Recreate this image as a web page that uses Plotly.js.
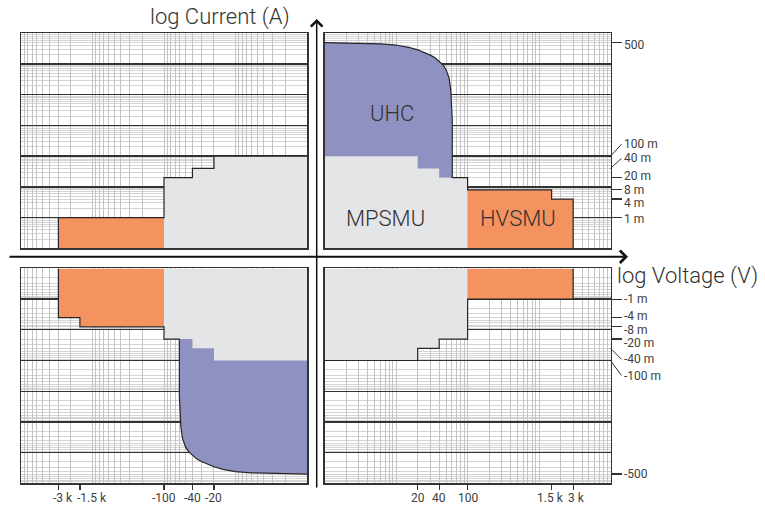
<!DOCTYPE html>
<html><head><meta charset="utf-8">
<script src="https://cdn.plot.ly/plotly-3.0.1.min.js"></script>
<style>html,body{margin:0;padding:0;background:#fff}#chart{width:765px;height:511px}</style>
</head><body><div id="chart"></div>
<script>
// ---- data (magnitudes: volts, amps) ----
const vFloor = 1;          // lowest |V| shown
const iFloor = 1e-4;       // lowest |I| shown
// MPSMU compliance steps (all four quadrants)
const mpsmuVolt = [20, 40, 100];
const mpsmuAmp  = [0.1, 0.04, 0.02];
// HVSMU source quadrants (I and III)
const hvsmuVoltStart = 100;
const hvsmuVolt = [1500, 3000];
const hvsmuAmp  = [0.008, 0.004];
// HVSMU sink quadrants (II and IV)
const hvsmuSinkVolt = [3000];
const hvsmuSinkAmp  = [0.001];
// UHC boundary curve (I and III)
const uhcVolt = [1, 3, 6, 10, 15, 20, 25, 30, 35, 40, 45, 50, 55, 58, 60, 61, 61];
const uhcAmp  = [500, 480, 455, 415, 350, 290, 240, 195, 160, 125, 95, 65, 35, 15, 5, 1.5, 0.02];
// tick labels
const topRightTickVals = [500, 0.02, 0.008, 0.004, 0.001];
const topRightTickText = ['500', '20 m', '8 m', '4 m', '1 m'];
const topRightLeaderVals = [0.1, 0.04];
const topRightLeaderText = ['100 m', '40 m'];
const botRightTickVals = [0.001, 0.004, 0.008, 0.02, 500];
const botRightTickText = ['-1 m', '-4 m', '-8 m', '-20 m', '-500'];
const botRightLeaderVals = [0.04, 0.1];
const botRightLeaderText = ['-40 m', '-100 m'];
const botLeftXTickVals = [3000, 1500, 100, 40, 20];
const botLeftXTickText = ['-3 k', '-1.5 k', '-100', '-40', '-20'];
const botRightXTickVals = [20, 40, 100, 1500, 3000];
const botRightXTickText = ['20', '40', '100', '1.5 k', '3 k'];
const moduleNames = ['UHC', 'MPSMU', 'HVSMU'];

// ---- label placement tweaks (pixels) ----
const topRightShift = [-2, 1.5, 0, -3.5, -1];
const botRightShift = [0, 1.5, -3, -4, 0];
const botLeftXShift = [5, 12, 0, 0, 0];
const botRightXShift = [0, 0, 0, -1, 3];

// ---- helpers ----
function stepEdge(v0, volts, amps) {
  const x = [v0], y = [amps[0]];
  volts.forEach((v, k) => {
    x.push(v); y.push(amps[k]);
    if (k < volts.length - 1) { x.push(v); y.push(amps[k + 1]); }
  });
  return {x, y};
}
function closeToFloor(e) {
  return {x: e.x.concat([e.x[e.x.length - 1], e.x[0], e.x[0]]),
          y: e.y.concat([iFloor, iFloor, e.y[0]])};
}
const COL = {uhc: '#8f92c1', mp: '#e4e5e7', hv: '#f4935f', edge: '#262626'};
function fill(xa, ya, poly, color) {
  return {type: 'scatter', mode: 'lines', x: poly.x, y: poly.y, xaxis: xa, yaxis: ya,
          fill: 'toself', fillcolor: color, line: {width: 0}, hoverinfo: 'skip', showlegend: false};
}
function outline(xa, ya, x, y) {
  return {type: 'scatter', mode: 'lines', x, y, xaxis: xa, yaxis: ya,
          line: {color: COL.edge, width: 1.2}, hoverinfo: 'skip', showlegend: false};
}
// empty trace so that a tick-mark axis gets drawn
function axisHolder(xa, ya) {
  return {type: 'scatter', mode: 'none', x: [], y: [], xaxis: xa, yaxis: ya, hoverinfo: 'skip', showlegend: false};
}

const mpEdge = stepEdge(vFloor, mpsmuVolt, mpsmuAmp);
const hvEdge = stepEdge(hvsmuVoltStart, hvsmuVolt, hvsmuAmp);
const hvSinkEdge = stepEdge(mpsmuVolt[mpsmuVolt.length - 1], hvsmuSinkVolt, hvsmuSinkAmp);
const uhcPoly = {x: uhcVolt.concat([vFloor, uhcVolt[0]]),
                 y: uhcAmp.concat([uhcAmp[uhcAmp.length - 1], uhcAmp[0]])};
const mpLastV = mpsmuVolt[mpsmuVolt.length - 1], mpLastI = mpsmuAmp[mpsmuAmp.length - 1];

// outline of quadrants I / III
const srcOutX = uhcVolt.concat([mpLastV, mpLastV], hvEdge.x.slice(1), [hvsmuVolt[hvsmuVolt.length - 1]]);
const srcOutY = uhcAmp.concat([mpLastI, hvsmuAmp[0]], hvEdge.y.slice(1), [iFloor]);
// outline of quadrants II / IV
const sinkOutX = mpEdge.x.concat(hvSinkEdge.x, [hvsmuSinkVolt[hvsmuSinkVolt.length - 1]]);
const sinkOutY = mpEdge.y.concat(hvSinkEdge.y, [iFloor]);

function sourceQuadrant(xa, ya) {
  return [fill(xa, ya, uhcPoly, COL.uhc), fill(xa, ya, closeToFloor(mpEdge), COL.mp),
          fill(xa, ya, closeToFloor(hvEdge), COL.hv), outline(xa, ya, srcOutX, srcOutY)];
}
function sinkQuadrant(xa, ya) {
  return [fill(xa, ya, closeToFloor(mpEdge), COL.mp), fill(xa, ya, closeToFloor(hvSinkEdge), COL.hv),
          outline(xa, ya, sinkOutX, sinkOutY)];
}
const data = [].concat(sinkQuadrant('x', 'y'), sourceQuadrant('x2', 'y2'),
                       sourceQuadrant('x3', 'y3'), sinkQuadrant('x4', 'y4'),
                       [axisHolder('x2', 'y5'), axisHolder('x4', 'y6'),
                        axisHolder('x5', 'y3'), axisHolder('x6', 'y4')]);

// ---- layout ----
const W = 765, H = 511;
const FONT = 'Roboto, "Open Sans", sans-serif';
const TXT = '#404040';
const domL = [21 / W, 307 / W], domR = [324.7 / W, 610.5 / W];
const domT = [1 - 248.3 / H, 1 - 33.3 / H], domB = [1 - 483.3 / H, 1 - 268.4 / H];
const gridX = (dom, anchor, range) => ({domain: dom, anchor, type: 'log', range, dtick: 'D1',
  showticklabels: false, ticks: '', showgrid: true, gridcolor: '#c4c4c4', gridwidth: 1,
  zeroline: false, showline: true, mirror: true, linecolor: '#333', linewidth: 1.5});
const gridY = (dom, anchor, range) => ({domain: dom, anchor, type: 'log', range, dtick: 1,
  showticklabels: false, ticks: '', showgrid: true, gridcolor: '#333', gridwidth: 1.4,
  minor: {dtick: 'D1', showgrid: true, gridcolor: '#d4d4d4', gridwidth: 1, ticks: ''},
  zeroline: false, showline: true, mirror: true, linecolor: '#333', linewidth: 1.5});
const tickFont = {family: FONT, size: 12, color: TXT};
const tickAxis = (extra) => Object.assign({type: 'log', tickmode: 'array', ticks: 'outside',
  tickcolor: '#333', tickwidth: 1.2, showgrid: false, zeroline: false, showline: false,
  showticklabels: false}, extra);

const annotations = [];
// axis arrows
annotations.push({xref: 'paper', yref: 'paper', x: 316.7 / W, y: 1 - 19 / H, ax: 0, ay: 470,
  text: '', showarrow: true, arrowhead: 4, arrowsize: 1.5, arrowwidth: 1.5, arrowcolor: '#111'});
annotations.push({xref: 'paper', yref: 'paper', x: 628 / W, y: 1 - 256.7 / H, ax: -620, ay: 0,
  text: '', showarrow: true, arrowhead: 4, arrowsize: 1.2, arrowwidth: 2, arrowcolor: '#111'});
// axis titles
annotations.push({xref: 'paper', yref: 'paper', x: 292 / W, y: 1 - 17 / H, xanchor: 'right', yanchor: 'middle',
  text: 'log Current (A)', showarrow: false, font: {family: FONT, size: 22, color: '#333', weight: 300}});
annotations.push({xref: 'paper', yref: 'paper', x: 615 / W, y: 1 - 276 / H, xanchor: 'left', yanchor: 'middle',
  text: 'log Voltage (V)', showarrow: false, font: {family: FONT, size: 22, color: '#333', weight: 300}});
// module labels
[[391.7, 113.3], [385, 218.5], [518.3, 218.5]].forEach((p, k) => annotations.push({
  xref: 'paper', yref: 'paper', x: p[0] / W, y: 1 - p[1] / H, xanchor: 'center', yanchor: 'middle',
  text: moduleNames[k], showarrow: false, font: {family: FONT, size: 22, color: '#333', weight: 300}}));
// right-side tick labels
const labelX = (domR[1] * W + 11) / W;
topRightTickVals.forEach((v, k) => annotations.push({xref: 'paper', yref: 'y2', x: labelX, y: Math.log10(v),
  yshift: topRightShift[k], text: topRightTickText[k], showarrow: false, xanchor: 'left', yanchor: 'middle',
  font: tickFont}));
botRightTickVals.forEach((v, k) => annotations.push({xref: 'paper', yref: 'y4', x: labelX, y: Math.log10(v),
  yshift: botRightShift[k], text: botRightTickText[k], showarrow: false, xanchor: 'left', yanchor: 'middle',
  font: tickFont}));
// bottom tick labels
const labelY = 1 - 498 / H;
botLeftXTickVals.forEach((v, k) => annotations.push({xref: 'x3', yref: 'paper', x: Math.log10(v), y: labelY,
  xshift: botLeftXShift[k], text: botLeftXTickText[k], showarrow: false, xanchor: 'center', yanchor: 'middle',
  font: tickFont}));
botRightXTickVals.forEach((v, k) => annotations.push({xref: 'x4', yref: 'paper', x: Math.log10(v), y: labelY,
  xshift: botRightXShift[k], text: botRightXTickText[k], showarrow: false, xanchor: 'center', yanchor: 'middle',
  font: tickFont}));
// leader-line tick labels
const leaderOff = [[11, -12], [11, -10]];
topRightLeaderVals.forEach((v, k) => annotations.push({xref: 'paper', yref: 'y2', x: domR[1], y: Math.log10(v),
  text: topRightLeaderText[k], showarrow: true, arrowhead: 0, arrowwidth: 1, arrowcolor: '#333',
  ax: leaderOff[k][0], ay: leaderOff[k][1], xanchor: 'left', yanchor: 'middle', font: tickFont}));
const leaderOffB = [[11, 11], [11, 15]];
botRightLeaderVals.forEach((v, k) => annotations.push({xref: 'paper', yref: 'y4', x: domR[1], y: Math.log10(v),
  text: botRightLeaderText[k], showarrow: true, arrowhead: 0, arrowwidth: 1, arrowcolor: '#333',
  ax: leaderOffB[k][0], ay: leaderOffB[k][1], xanchor: 'left', yanchor: 'middle', font: tickFont}));

const layout = {
  width: W, height: H, margin: {l: 0, r: 0, t: 0, b: 0}, showlegend: false,
  paper_bgcolor: '#fff', plot_bgcolor: '#fff', font: {family: FONT, color: TXT},
  xaxis: gridX(domL, 'y', [4, 0]), yaxis: gridY(domT, 'x', [-4, 3]),
  xaxis2: gridX(domR, 'y2', [0, 4]), yaxis2: gridY(domT, 'x2', [-4, 3]),
  xaxis3: gridX(domL, 'y3', [4, 0]), yaxis3: gridY(domB, 'x3', [3, -4]),
  xaxis4: gridX(domR, 'y4', [0, 4]), yaxis4: gridY(domB, 'x4', [3, -4]),
  yaxis5: tickAxis({overlaying: 'y2', anchor: 'x2', side: 'right', range: [-4, 3], ticklen: 10,
    tickvals: topRightTickVals}),
  yaxis6: tickAxis({overlaying: 'y4', anchor: 'x4', side: 'right', range: [3, -4], ticklen: 10,
    tickvals: botRightTickVals}),
  xaxis5: tickAxis({overlaying: 'x3', anchor: 'y3', side: 'bottom', range: [4, 0], ticklen: 6,
    tickvals: botLeftXTickVals}),
  xaxis6: tickAxis({overlaying: 'x4', anchor: 'y4', side: 'bottom', range: [0, 4], ticklen: 6,
    tickvals: botRightXTickVals}),
  annotations
};
Plotly.newPlot('chart', data, layout, {staticPlot: true});
</script></body></html>
